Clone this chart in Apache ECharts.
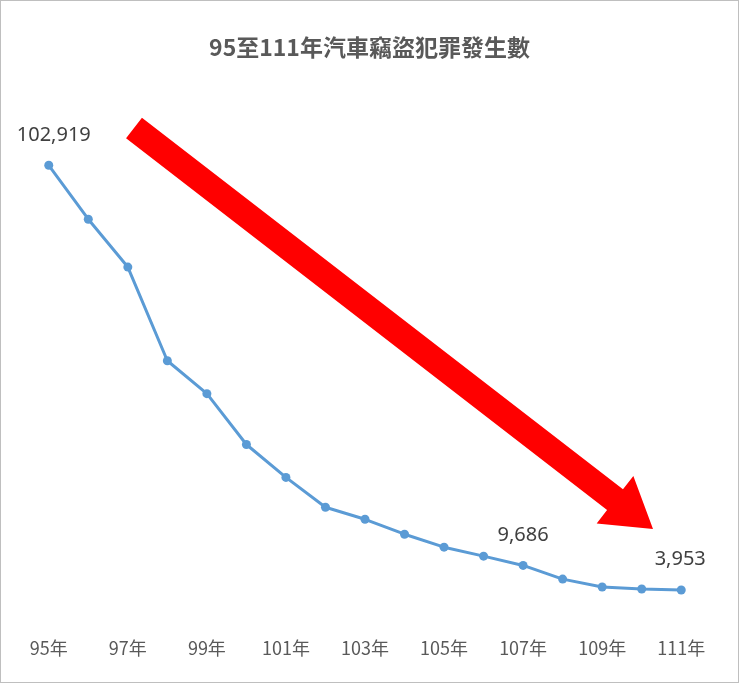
<!DOCTYPE html>
<html><head><meta charset="utf-8">
<script src="https://cdn.jsdelivr.net/npm/echarts@6/dist/echarts.min.js"></script>
<style>html,body{margin:0;padding:0;background:#fff}#c{width:739px;height:683px;box-sizing:border-box;border:1px solid #bfbfbf}</style>
</head><body><div id="c"></div>
<script>
const years = ['95年','96年','97年','98年','99年','100年','101年','102年','103年','104年','105年','106年','107年','108年','109年','110年','111年'];
const thefts = [102919,90360,79210,57380,49710,37860,30200,23230,20440,16960,13940,11850,9686,6500,4650,4200,3953];
const labeledIdx = [0,12,16];

function arrow(x0,y0,x1,y1,hw,headW,headL){
  const dx=x1-x0, dy=y1-y0, L=Math.hypot(dx,dy), ux=dx/L, uy=dy/L, nx=-uy, ny=ux;
  const bx=x1-ux*headL, by=y1-uy*headL;
  return [[x0+nx*hw,y0+ny*hw],[bx+nx*hw,by+ny*hw],[bx+nx*headW,by+ny*headW],[x1,y1],[bx-nx*headW,by-ny*headW],[bx-nx*hw,by-ny*hw],[x0-nx*hw,y0-ny*hw]];
}
const chart = echarts.init(document.getElementById('c'));
chart.setOption({
  animation:false,
  title:{text:'95至111年汽車竊盜犯罪發生數',left:'center',top:30,textStyle:{fontSize:23,fontWeight:'bold',color:'#595959',fontFamily:'Noto Sans CJK TC'}},
  grid:{left:28,right:37,top:91,bottom:75},
  xAxis:{type:'category',data:years,boundaryGap:true,axisLine:{show:false},axisTick:{show:false},
    axisLabel:{interval:1,color:'#595959',fontSize:18,margin:32,fontFamily:'Noto Sans CJK TC'}},
  yAxis:{type:'value',min:0,max:120000,show:false,splitLine:{show:false}},
  series:[{type:'line',data:thefts,symbol:'circle',symbolSize:9,
    lineStyle:{color:'#5b9bd5',width:3},itemStyle:{color:'#5b9bd5'},
    label:{show:true,position:'top',distance:16,fontSize:20,color:'#404040',fontFamily:'Noto Sans',
      formatter:p=>labeledIdx.includes(p.dataIndex)?p.value.toLocaleString('en-US'):''},
    labelLayout:p=>p.dataIndex===0?{dx:5}:(p.dataIndex===16?{dx:-1}:{})}],
  graphic:[{type:'polygon',shape:{points:arrow(133,127,652,528,13,30,48)},style:{fill:'#ff0000'},z:-1}]
});
</script></body></html>
